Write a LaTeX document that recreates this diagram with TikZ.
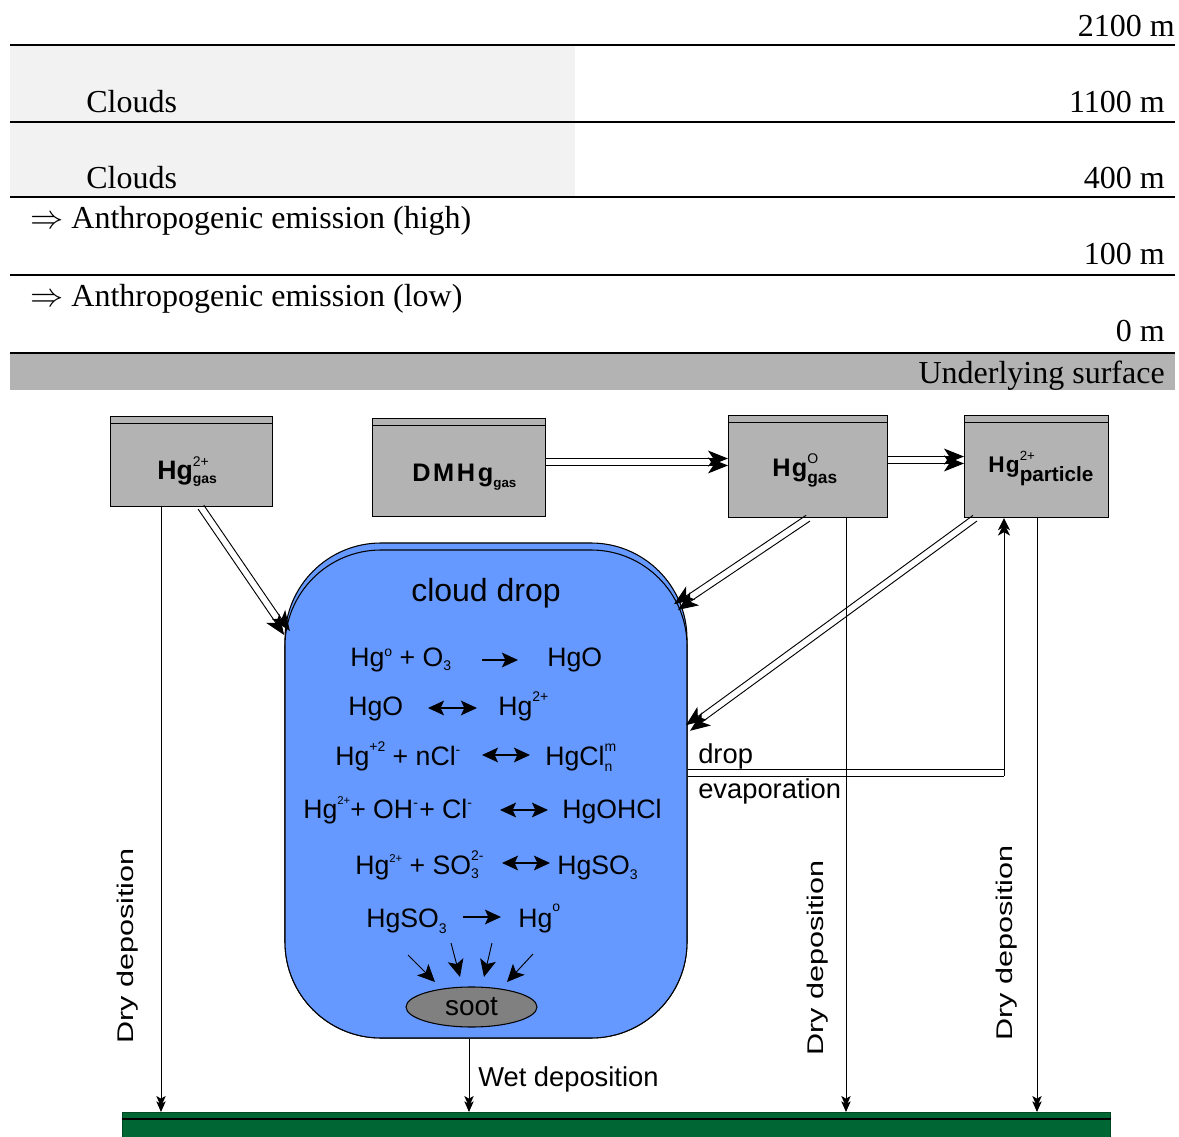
\documentclass[tikz,border=0pt]{standalone}
\usepackage{fontspec}
\setmainfont{Liberation Serif}
\setsansfont{Liberation Sans}
\usetikzlibrary{arrows.meta,calc,shapes.geometric}
\definecolor{cloudgray}{HTML}{F2F2F2}
\definecolor{bandgray}{HTML}{B3B3B3}
\definecolor{dropblue}{HTML}{6699FF}
\definecolor{sootgray}{HTML}{808080}
\definecolor{groundgreen}{HTML}{006633}
\newcommand{\fsz}[1]{\fontsize{#1}{#1}\selectfont}
\newcommand{\hsup}[2][9.5pt]{\raisebox{#1}{\fsz{10.5}#2}}
\newcommand{\hsub}[2][4pt]{\raisebox{-#1}{\fsz{10.5}#2}}
\newcommand{\twin}[2]{%
  \draw[twin] ($(#1)!2.6pt!90:(#2)$) -- ($(#2)!2.6pt!-90:(#1)$);
  \draw[twin] ($(#1)!2.6pt!-90:(#2)$) -- ($(#2)!2.6pt!90:(#1)$);}
\begin{document}
\begin{tikzpicture}[x=0.75pt,y=-0.75pt,
  serif/.style={font=\fsz{24}, inner sep=0pt},
  box/.style={draw, line width=0.9pt, fill=bandgray, anchor=north west, inner sep=0pt,
    path picture={\draw[line width=0.9pt] ([yshift=-5.25pt]path picture bounding box.north west) -- ([yshift=-5.25pt]path picture bounding box.north east);}},
  boxtxt/.style={font=\sffamily\bfseries, anchor=base west, inner sep=0pt},
  eq/.style={font=\sffamily\fsz{20}, anchor=base west, inner sep=0pt},
  rxn/.style={line width=0.8pt, -{Stealth[length=12pt,width=11pt,inset=2.5pt]}},
  rxnboth/.style={line width=0.8pt, {Stealth[length=12pt,width=11pt,inset=2.5pt]}-{Stealth[length=12pt,width=11pt,inset=2.5pt]}},
  dep/.style={line width=0.75pt, -{Stealth[length=8pt,width=7pt,inset=2pt,sep=-4pt]Stealth[length=8pt,width=7pt,inset=2pt]}},
  twin/.style={line width=0.7pt, -{Stealth[length=15pt,width=12pt,inset=4pt]}},
  small/.style={line width=0.7pt, -{Stealth[length=13pt,width=12pt,inset=3pt]}},
  lbl/.style={font=\sffamily\fsz{20.5}, inner sep=0pt},
  vlbl/.style={font=\sffamily\fsz{17}, inner sep=0pt, rotate=90, xscale=1.35}]
\useasboundingbox (0,0) rectangle (1179,1137);

% ---------- atmospheric layers ----------
\fill[cloudgray] (10,46) rectangle (575,121);
\fill[cloudgray] (10,123) rectangle (575,196);
\fill[bandgray] (10,354) rectangle (1175,390);
\draw[line width=1.4pt] (10,45) -- (1175,45);
\draw[line width=0.8pt] (10,122) -- (575,122);
\draw[line width=1.4pt] (575,122) -- (1175,122);
\draw[line width=1.4pt] (10,197) -- (1175,197);
\draw[line width=1.4pt] (10,275) -- (1175,275);
\draw[line width=1.4pt] (10,353) -- (1175,353);

\node[serif, anchor=base east] (h2100) at (1175,37) {2100 m};
\node[serif, anchor=base east] (h1100) at (1165,113) {1100 m};
\node[serif, anchor=base east] (h400) at (1165,189) {400 m};
\node[serif, anchor=base east] (h100) at (1165,265) {100 m};
\node[serif, anchor=base east] (h0) at (1165,342) {0 m};
\node[serif, anchor=base east] (under) at (1165,384) {Underlying surface};
\node[serif, anchor=base west] (cl1) at (86,113) {Clouds};
\node[serif, anchor=base west] (cl2) at (86,189) {Clouds};
\node[serif, anchor=base west] (anhi) at (30,229) {$\Rightarrow$ Anthropogenic emission (high)};
\node[serif, anchor=base west] (anlo) at (30,307) {$\Rightarrow$ Anthropogenic emission (low)};

% ---------- species boxes ----------
\node[box, minimum width=121.5pt, minimum height=67.5pt] (hg2g) at (110,416) {};
\node[box, minimum width=129.75pt, minimum height=73.5pt] (dmhg) at (372,418) {};
\node[box, minimum width=119.25pt, minimum height=76.5pt] (hg0g) at (728,415) {};
\node[box, minimum width=108pt, minimum height=76.5pt] (hgp) at (964,415) {};

\node[boxtxt] (hg2gt) at (157,480) {\fsz{20}Hg\rlap{\hsup[10pt]{\mdseries 2+}}\hsub[3pt]{gas}};
\node[boxtxt] (dmhgt) at (412,482) {\fsz{19}D\kern2pt M\kern2pt H\kern2pt g\hsub[4.5pt]{\fsz{10}gas}};
\node[boxtxt] (hg0gt) at (772,477) {\fsz{19}H\kern1pt g\rlap{\hsup[10pt]{\mdseries\fsz{10.5}O}}\hsub[5pt]{\fsz{13}gas}};
\node[boxtxt] (hgpt) at (988,473) {\fsz{17}H\kern1pt g\rlap{\hsup[9pt]{\mdseries\fsz{10}2+}}\hsub[6.75pt]{\fsz{15.5}particle}};

% ---------- cloud drop ----------
\node[draw, line width=0.8pt, fill=dropblue, rounded corners=72pt, minimum width=301.5pt, minimum height=371.25pt, inner sep=0pt] (dropbk) at (486,790.5) {};
\node[draw, line width=0.8pt, fill=dropblue, rounded corners=72pt, minimum width=301.5pt, minimum height=366pt, inner sep=0pt] (drop) at (486,794) {};
\node[font=\sffamily\fsz{24}, anchor=base, inner sep=0pt] (droptitle) at (486,601) {cloud drop};

\node[eq] (e1l) at (350,666) {Hg\hsup[7pt]{o} + O\hsub[3pt]{3}};
\node[eq] (e1r) at (547,666) {HgO};
\node[eq] (e2l) at (348,715) {HgO};
\node[eq] (e2r) at (498,715) {Hg\hsup[10pt]{2+}};
\node[eq] (e3l) at (335,765) {Hg\hsup[10pt]{+2} + nCl\hsup[8pt]{-}};
\node[eq] (e3r) at (545,765) {HgCl\rlap{\hsup[10.5pt]{m}}\hsub[5pt]{n}};
\node[eq] (e4l) at (303,818) {Hg\hsup[10pt]{\fsz{8.5}2+}+ OH\hsup[8pt]{-}\kern1pt+ Cl\hsup[8pt]{-}};
\node[eq] (e4r) at (562,818) {HgOHCl};
\node[eq] (e5l) at (355,874) {Hg\hsup[9pt]{\fsz{8.5}2+} + SO\rlap{\hsup[10pt]{2-}}\hsub[3.5pt]{3}};
\node[eq] (e5r) at (557,874) {HgSO\hsub[4pt]{3}};
\node[eq] (e6l) at (366,927) {HgSO\hsub[5pt]{3}};
\node[eq] (e6r) at (518,927) {Hg\hsup[12pt]{o}};

\coordinate (r1a) at (482,660); \coordinate (r1b) at (518,660);
\coordinate (r2a) at (428,708); \coordinate (r2b) at (477,708);
\coordinate (r3a) at (482,755); \coordinate (r3b) at (530,755);
\coordinate (r4a) at (500,810); \coordinate (r4b) at (548,810);
\coordinate (r5a) at (502,863); \coordinate (r5b) at (550,863);
\coordinate (r6a) at (463,917); \coordinate (r6b) at (501,917);
\draw[rxn] (r1a) -- (r1b);
\draw[rxnboth] (r2a) -- (r2b);
\draw[rxnboth] (r3a) -- (r3b);
\draw[rxnboth] (r4a) -- (r4b);
\draw[rxnboth] (r5a) -- (r5b);
\draw[rxn] (r6a) -- (r6b);

\node[ellipse, draw, line width=0.8pt, fill=sootgray, minimum width=98.25pt, minimum height=30pt, inner sep=0pt, font=\sffamily\fsz{21}] (soot) at (471.5,1007) {soot};
\coordinate (s1) at (408,955); \coordinate (s1e) at (435,982);
\coordinate (s2) at (451,943); \coordinate (s2e) at (460,977);
\coordinate (s3) at (492,943); \coordinate (s3e) at (484,977);
\coordinate (s4) at (533,954); \coordinate (s4e) at (507,982);
\draw[small] (s1) -- (s1e);
\draw[small] (s2) -- (s2e);
\draw[small] (s3) -- (s3e);
\draw[small] (s4) -- (s4e);

% ---------- ground ----------
\node[fill=groundgreen, draw=groundgreen!70!black, line width=0.5pt, minimum width=741pt, minimum height=18.75pt, inner sep=0pt, anchor=north west] (ground) at (122,1112) {};
\draw[line width=0.8pt] ([yshift=-5.25pt]ground.north west) -- ([yshift=-5.25pt]ground.north east);

% ---------- transfers ----------
\coordinate (t1a) at ($(hg2g.south west)+(91,0)$);
\coordinate (t1b) at (287,633);
\twin{t1a}{t1b}
\coordinate (t2a) at (dmhg.east |- 0,462);
\coordinate (t2b) at (hg0g.west |- 0,462);
\twin{t2a}{t2b}
\coordinate (t3a) at (hg0g.east |- 0,460);
\coordinate (t3b) at (hgp.west |- 0,460);
\twin{t3a}{t3b}
\coordinate (t4a) at ($(hg0g.south west)+(80,0)$);
\coordinate (t4b) at (676,607);
\twin{t4a}{t4b}
\coordinate (t5a) at ($(hgp.south west)+(11,0)$);
\coordinate (t5b) at (688,728);
\twin{t5a}{t5b}

% evaporation
\coordinate (ev0) at ($(hgp.south west)+(40,0)$);
\coordinate (ev1) at (ev0 |- 0,769);
\coordinate (ev2) at (ev0 |- 0,776);
\draw[line width=0.7pt] (drop.east |- ev1) -- (ev1);
\draw[line width=0.7pt] (drop.east |- ev2) -- (ev2);
\draw[line width=0.75pt, -{Stealth[length=9pt,width=9pt,inset=2.5pt,sep=-5pt]Stealth[length=9pt,width=9pt,inset=2.5pt]}] (ev2) -- (ev0);
\node[lbl, anchor=base west] (evt1) at (698,763) {drop};
\node[lbl, anchor=base west] (evt2) at (698,798) {evaporation};

% depositions
\coordinate (d1) at ($(hg2g.south west)+(51,0)$);
\coordinate (d2) at ($(hg0g.south west)+(118,0)$);
\coordinate (d3) at ($(hgp.south west)+(73,0)$);
\coordinate (w1) at ($(drop.south)+(-17,0)$);
\draw[dep] (d1) -- (d1 |- ground.north);
\draw[dep] (d2) -- (d2 |- ground.north);
\draw[dep] (d3) -- (d3 |- ground.north);
\draw[dep] (w1) -- (w1 |- ground.north);

\node[vlbl] (dry1) at (128,946) {Dry deposition};
\node[vlbl] (dry2) at (818,958) {Dry deposition};
\node[vlbl] (dry3) at (1007,943) {Dry deposition};
\node[lbl, anchor=base west] (wet) at (478,1086) {Wet deposition};
\end{tikzpicture}
\end{document}
